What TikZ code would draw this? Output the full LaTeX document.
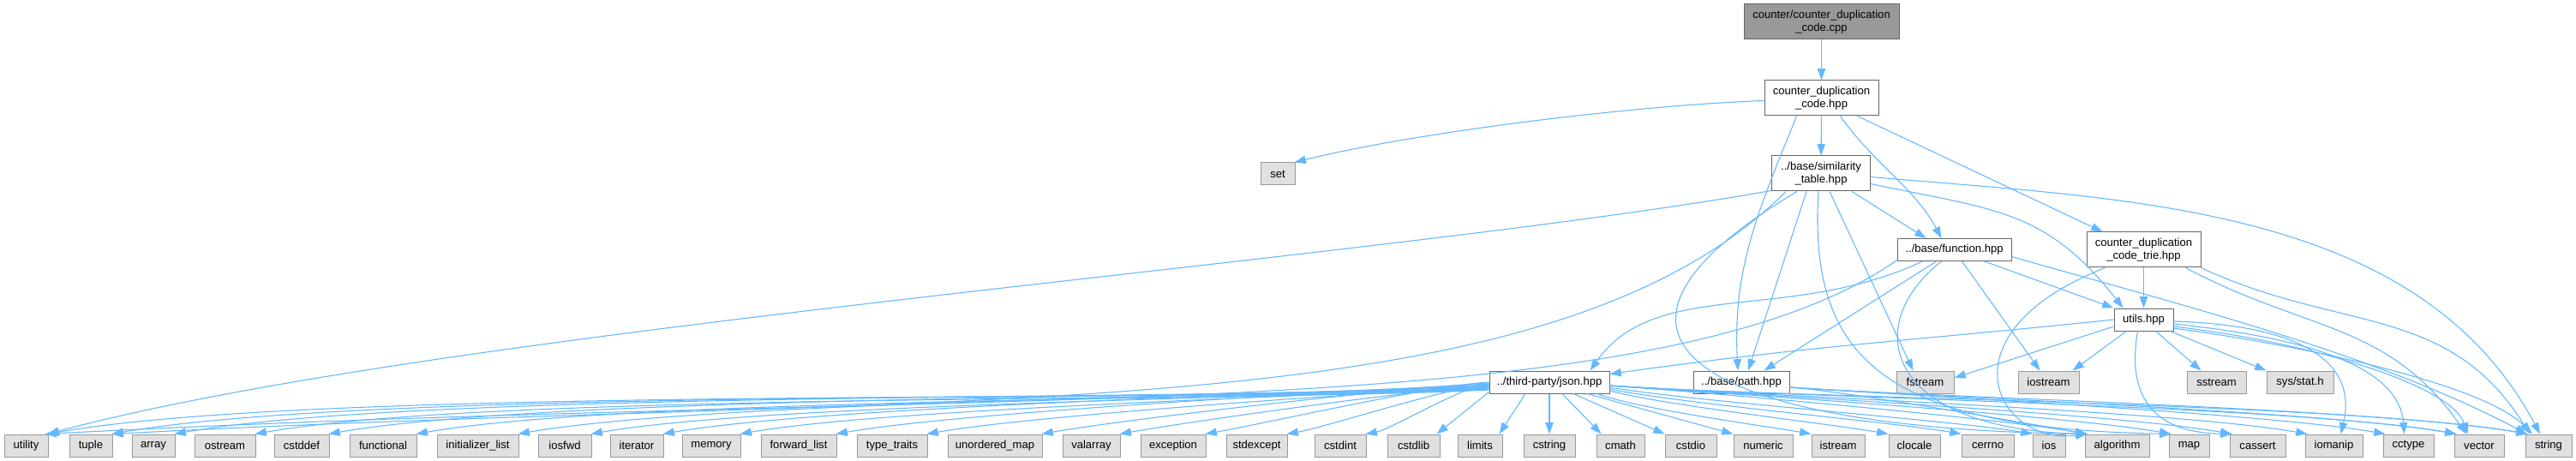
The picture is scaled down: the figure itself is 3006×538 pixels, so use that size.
\documentclass[tikz,border=0pt]{standalone}
\usepackage{fontspec}
\setmainfont{Liberation Sans}
\usetikzlibrary{arrows.meta,calc}
\definecolor{edgeblue}{HTML}{63B8FF}
\definecolor{extfill}{HTML}{E0E0E0}
\definecolor{extdraw}{HTML}{999999}
\definecolor{intdraw}{HTML}{666666}
\definecolor{rootfill}{HTML}{999999}
% curve from #1 to #2, control offsets #3 (from start) and #4 (from end), polar in px
\newcommand\bez[4]{\path #1 coordinate (bzs) #2 coordinate (bze);
  \draw[dep] (bzs) .. controls ($(bzs)+#3$) and ($(bze)+#4$) .. (bze);}
\begin{document}
\begin{tikzpicture}[x=0.75pt,y=0.75pt,
 box/.style={rectangle, inner sep=0pt, font=\fontsize{9.8}{11.25}\selectfont, align=center, line width=0.75pt, minimum height=19.5pt},
 ext/.style={box, fill=extfill, draw=extdraw},
 int/.style={box, fill=white, draw=intdraw},
 root/.style={box, fill=rootfill, draw=intdraw},
 tall/.style={minimum height=30.75pt},
 w/.style={minimum width=#1*0.75pt},
 dep/.style={draw=edgeblue, line width=0.8pt, -{Triangle[length=10pt,width=7pt]}}]
\fill[white] (0,0) rectangle (3006,-538);
\useasboundingbox (0,0) rectangle (3006,-538);

% upper nodes
\node[root,tall,w=181] (main) at (2125.5,-25.5) {counter/counter\_duplication\\\_code.cpp};
\node[int,tall,w=133] (cdc) at (2125.5,-114.5) {counter\_duplication\\\_code.hpp};
\node[ext,w=40] (set) at (1491,-203) {set};
\node[int,tall,w=115] (sim) at (2125,-202.5) {../base/similarity\\\_table.hpp};
\node[int,w=133] (func) at (2280.5,-291.5) {../base/function.hpp};
\node[int,tall,w=133] (trie) at (2501.5,-291.5) {counter\_duplication\\\_code\_trie.hpp};
\node[int,w=69] (utils) at (2501.5,-373) {utils.hpp};
\node[int,w=140] (json) at (1808,-446) {../third-party/json.hpp};
\node[int,w=112] (path) at (2032,-446) {../base/path.hpp};
\node[ext,w=67] (fstream) at (2246.5,-446) {fstream};
\node[ext,w=71] (iostream) at (2390.5,-446) {iostream};
\node[ext,w=69] (sstream) at (2586.5,-446) {sstream};
\node[ext,w=78] (sysstat) at (2684,-446) {sys/stat.h};

% bottom row
\foreach \n/\x/\ww/\l in {utility/30.5/51/utility, tuple/106/50/tuple, array/179/50/array,
  ostream/262.5/71/ostream, cstddef/352/64/cstddef, functional/447/78/functional,
  initlist/557.5/95/initializer\_list, iosfwd/659/62/iosfwd, iterator/743/62/iterator,
  memory/830/68/memory, fwdlist/932/88/forward\_list, typetraits/1041/82/type\_traits,
  umap/1161/110/unordered\_map, valarray/1273.5/67/valarray, exception/1369/76/exception,
  stdexcept/1466.5/71/stdexcept, cstdint/1564/60/cstdint, cstdlib/1649.5/61/cstdlib,
  limits/1727/52/limits, cstring/1808/60/cstring, cmath/1891/56/cmath, cstdio/1973/60/cstdio,
  numeric/2057.5/69/numeric, istream/2145/62/istream, clocale/2234/60/clocale,
  cerrno/2319.5/61/cerrno, ios/2391/38/ios, algorithm/2470.5/75/algorithm, map/2554.5/47/map,
  cassert/2634.5/65/cassert, iomanip/2723.5/67/iomanip, cctype/2810.5/59/cctype,
  vector/2893/58/vector, string/2974/54/string}
  {\node[ext,w=\ww] (\n) at (\x,-520) {\l};}

% main / cdc
\draw[dep] (main) -- (cdc);
\bez{($(cdc.west)+(0,-3)$)}{($(set.north east)+(-1,0)$)}{(182:147)}{(14:147)}
\draw[dep] (cdc) -- (sim);
\bez{($(cdc.south)+(-29,0)$)}{($(path.north)+(-4,0)$)}{(-112:120)}{(93:120)}
\bez{($(cdc.south)+(22,0)$)}{($(func.north)+(-15,0)$)}{(-55:67)}{(118:67)}
\draw[dep] ($(cdc.south)+(42,0)$) -- ($(trie.north)+(-48,0)$);

% similarity_table
\bez{($(sim.south west)+(0,1)$)}{($(utility.north east)+(-1,0)$)}{(190:477)}{(15:477)}
\bez{($(sim.south west)+(17,0)$)}{($(tuple.north east)+(-1,0)$)}{(225:400)}{(3:1000)}
\draw[dep] ($(sim.south)+(-28,0)$) .. controls (1800,-400) and (2000,-500) .. ($(algorithm.north west)+(3,0)$);
\draw[dep] ($(sim.south)+(-17,0)$) -- ($(path.north)+(8,0)$);
\draw[dep] ($(sim.south)+(-3,0)$) .. controls (2110,-420) and (2200,-500) .. ($(map.north west)+(3,0)$);
\draw[dep] ($(sim.south)+(10,0)$) -- ($(fstream.north)+(-14,0)$);
\draw[dep] ($(sim.south east)+(-22,0)$) -- ($(func.north)+(-33,0)$);
\bez{($(sim.east)+(0,-12)$)}{($(utils.north)+(-24,0)$)}{(-12:147)}{(128:147)}
\bez{($(sim.east)+(0,-4)$)}{($(string.north)+(-10,0)$)}{(-5:303)}{(118:303)}

% function.hpp
\bez{($(func.south west)+(1,2)$)}{($(utility.north east)+(-4,0)$)}{(215:350)}{(3:1100)}
\bez{($(func.south)+(-37,0)$)}{($(json.north east)+(-23,0)$)}{(205:173)}{(55:133)}
\draw[dep] ($(func.south)+(-21,0)$) -- ($(path.north east)+(-30,0)$);
\draw[dep] ($(func.south)+(-15,0)$) .. controls (2170,-380) and (2200,-500) .. ($(algorithm.north west)+(3,0)$);
\draw[dep] ($(func.south)+(9,0)$) -- ($(iostream.north)+(-10,0)$);
\draw[dep] ($(func.south)+(35,0)$) -- (utils.north west);
\bez{($(func.east)+(0,-8)$)}{($(string.north west)+(2,0)$)}{(-16:200)}{(152:200)}

% trie
\draw[dep] (trie) -- (utils);
\draw[dep] ($(trie.south west)+(22,0)$) .. controls (2260,-390) and (2330,-520) .. ($(algorithm.north west)+(3,0)$);
\bez{($(trie.south east)+(-18,0)$)}{($(vector.north)+(-15,0)$)}{(-28:160)}{(125:160)}
\bez{(trie.south east)}{($(string.north)+(-22,0)$)}{(-25:180)}{(122:180)}

% utils
\bez{(utils.west)}{($(json.north east)+(0,-4)$)}{(186:240)}{(8:240)}
\draw[dep] ($(utils.west)+(0,-8)$) -- ($(fstream.east)+(0,5)$);
\draw[dep] ($(utils.south west)+(15,0)$) -- ($(iostream.north east)+(-8,0)$);
\draw[dep] ($(utils.south)+(14,0)$) -- ($(sstream.north)+(-18,0)$);
\draw[dep] ($(utils.south east)+(-4,0)$) -- (sysstat.north west);
\draw[dep] ($(utils.south)+(-7,0)$) .. controls (2480,-470) and (2520,-505) .. ($(cassert.north west)+(3,0)$);
\draw[dep] ($(utils.east)+(0,-2)$) .. controls (2700,-380) and (2750,-430) .. ($(iomanip.north)+(8,0)$);
\draw[dep] ($(utils.east)+(0,-5)$) .. controls (2700,-395) and (2800,-430) .. ($(cctype.north)+(-5,0)$);
\draw[dep] ($(utils.east)+(0,-8)$) .. controls (2700,-400) and (2860,-450) .. ($(vector.north)+(-13,0)$);
\draw[dep] ($(utils.east)+(0,-10)$) .. controls (2700,-405) and (2900,-450) .. ($(string.north)+(-19,0)$);

% path.hpp
\foreach \t/\dd in {algorithm/68, cctype/137, vector/153, string/171}
  {\bez{($(path.east)+(0,-6)$)}{($(\t.north west)+(3,0)$)}{(-4:\dd)}{(170:\dd)}}

% json.hpp
\foreach \t/\s/\dd in {utility/8/329, tuple/7/315, array/6/300, ostream/9/283, cstddef/5/265,
   functional/8/245, initlist/4/223, iosfwd/7/205, iterator/3/189, memory/6/171, fwdlist/2/149,
   typetraits/5/128, umap/1/103, valarray/4/84, exception/0/65, stdexcept/3/47, cstdint/2/28}
  {\bez{($(json.west)+(0,-\s)$)}{($(\t.north east)+(-1,0)$)}{(183:\dd)}{(10:\dd)}}
\draw[dep] ($(json.south west)+(0,2)$) -- ($(cstdlib.north east)+(-4,0)$);
\draw[dep] ($(json.south)+(-28,0)$) -- ($(limits.north east)+(-4,0)$);
\draw[dep] (json.south) -- (cstring.north);
\draw[dep] ($(json.south)+(15,0)$) -- ($(cmath.north west)+(6,0)$);
\draw[dep] ($(json.south)+(28,0)$) -- (cstdio.north west);
\draw[dep] ($(json.south)+(44,0)$) -- (numeric.north west);
\bez{($(json.south east)+(-15,0)$)}{(istream.north west)}{(-20:53)}{(170:53)}
\bez{($(json.east)+(0,-10)$)}{(clocale.north west)}{(-15:67)}{(170:67)}
\bez{($(json.east)+(0,-8)$)}{(cerrno.north west)}{(-12:80)}{(170:80)}
\bez{($(json.east)+(0,-6)$)}{(ios.north west)}{(-10:93)}{(170:93)}
\foreach \t/\dd in {algorithm/109, map/129, cassert/143, iomanip/160, vector/193, string/209}
  {\bez{($(json.east)+(0,-4)$)}{($(\t.north west)+(3,0)$)}{(-4:\dd)}{(170:\dd)}}
\end{tikzpicture}
\end{document}
